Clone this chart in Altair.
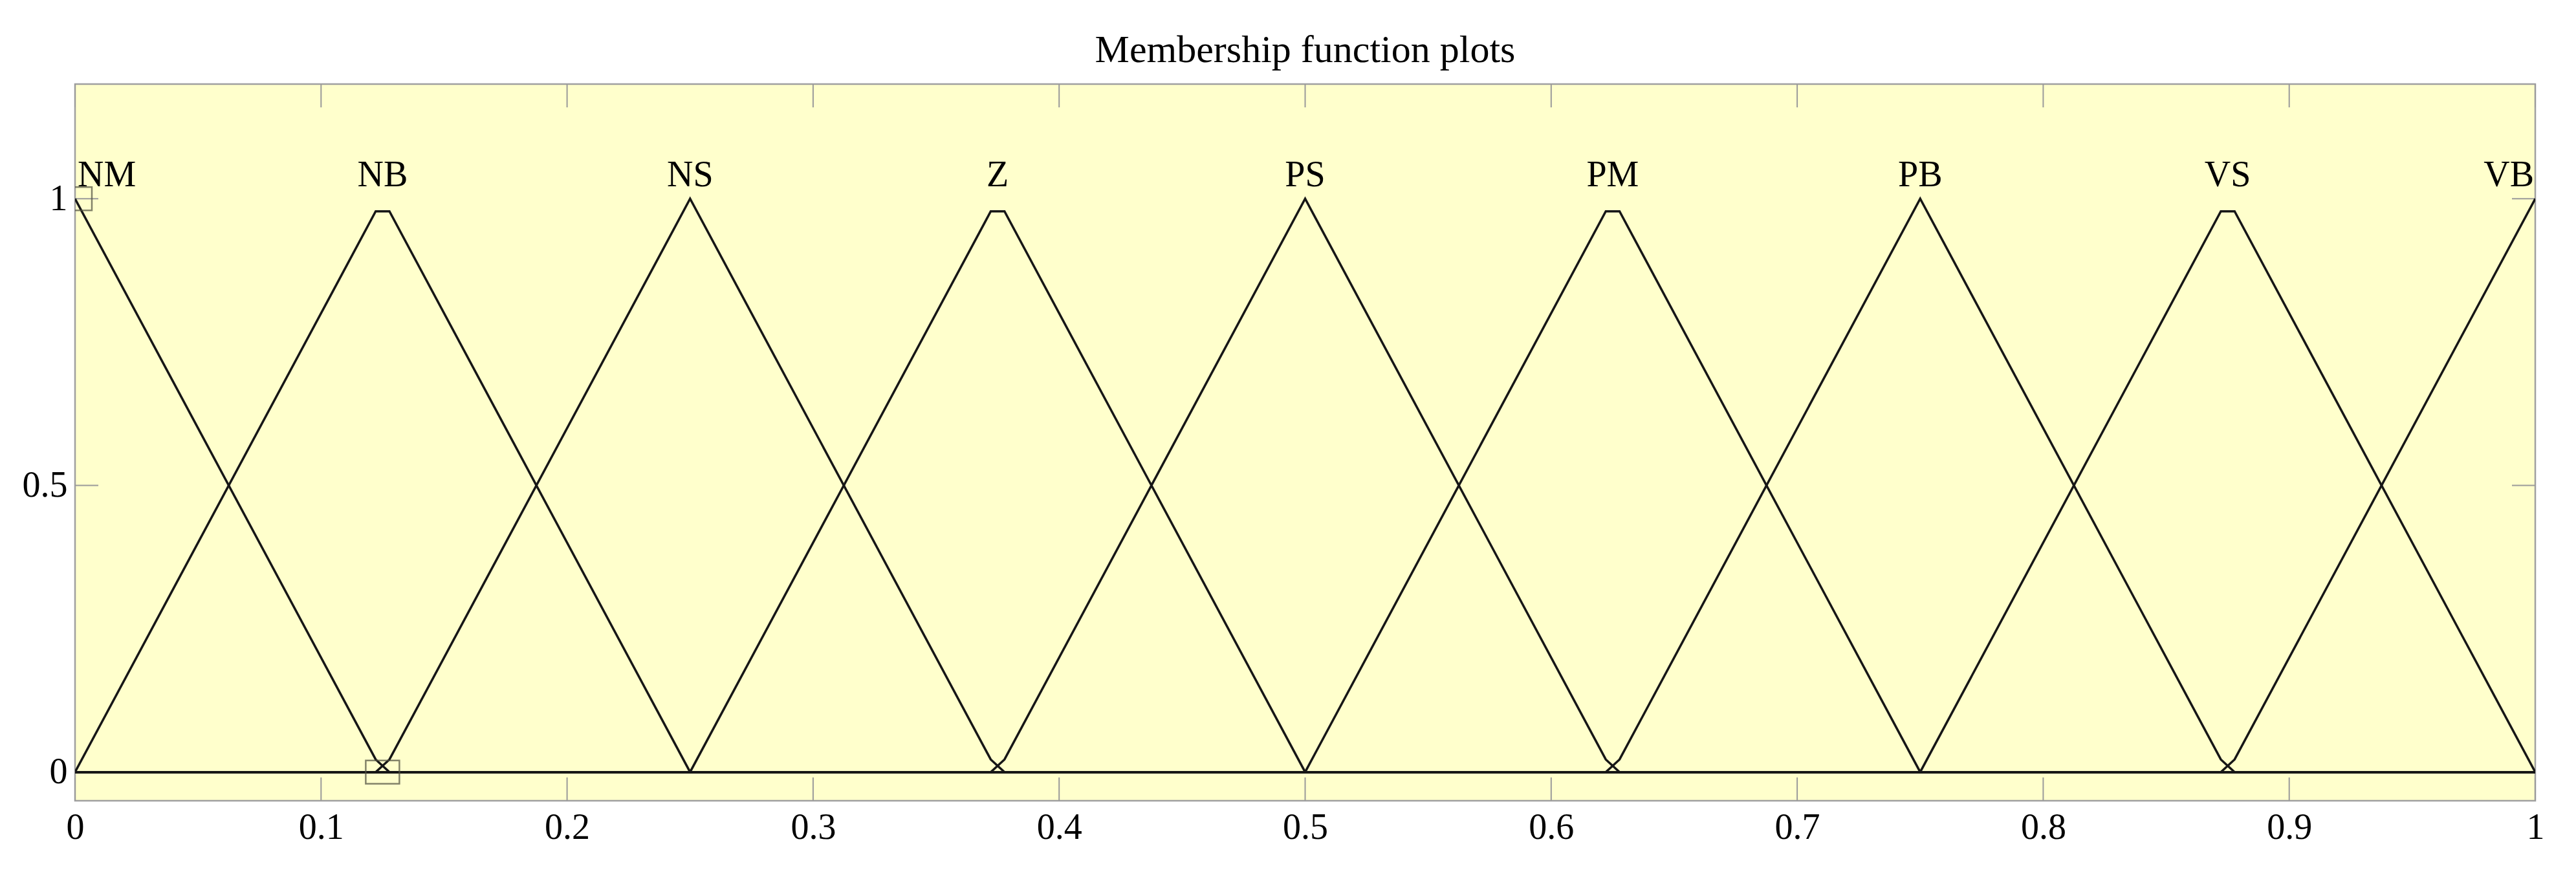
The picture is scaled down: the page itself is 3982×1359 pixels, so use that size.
import altair as alt
import pandas as pd

# ---- data ----
mf_names = ["NM", "NB", "NS", "Z", "PS", "PM", "PB", "VS", "VB"]
mf_centers = [0.0, 0.125, 0.25, 0.375, 0.5, 0.625, 0.75, 0.875, 1.0]
mf_x = [
    [0.0, 0.1222, 0.1278, 1.0],
    [0.0, 0.1222, 0.1278, 0.25, 1.0],
    [0.0, 0.1222, 0.1278, 0.25, 0.3722, 0.3778, 1.0],
    [0.0, 0.25, 0.3722, 0.3778, 0.5, 1.0],
    [0.0, 0.3722, 0.3778, 0.5, 0.6222, 0.6278, 1.0],
    [0.0, 0.5, 0.6222, 0.6278, 0.75, 1.0],
    [0.0, 0.6222, 0.6278, 0.75, 0.8722, 0.8778, 1.0],
    [0.0, 0.75, 0.8722, 0.8778, 1.0],
    [0.0, 0.8722, 0.8778, 1.0],
]
mf_y = [
    [1.0, 0.022, 0.0, 0.0],
    [0.0, 0.978, 0.978, 0.0, 0.0],
    [0.0, 0.0, 0.022, 1.0, 0.022, 0.0, 0.0],
    [0.0, 0.0, 0.978, 0.978, 0.0, 0.0],
    [0.0, 0.0, 0.022, 1.0, 0.022, 0.0, 0.0],
    [0.0, 0.0, 0.978, 0.978, 0.0, 0.0],
    [0.0, 0.0, 0.022, 1.0, 0.022, 0.0, 0.0],
    [0.0, 0.0, 0.978, 0.978, 0.0],
    [0.0, 0.0, 0.022, 1.0],
]
sel_x = [0.0, 0.125]   # vertices of selected MF (square handles)
sel_y = [1.0, 0.0]
x_ticks = [0, 0.1, 0.2, 0.3, 0.4, 0.5, 0.6, 0.7, 0.8, 0.9, 1]
y_ticks = [0, 0.5, 1]
title_text = "Membership function plots"

# ---- build tables ----
rows = []
for name, xs, ys in zip(mf_names, mf_x, mf_y):
    for i, (xv, yv) in enumerate(zip(xs, ys)):
        rows.append({"mf": name, "i": i, "x": xv, "y": yv})
lines_df = pd.DataFrame(rows)
labels_df = pd.DataFrame({"mf": mf_names, "x": mf_centers, "y": [1.0] * len(mf_names)})
sel_df = pd.DataFrame({"x": sel_x, "y": sel_y})
xt_df = pd.DataFrame({"t": x_ticks})
yt_df = pd.DataFrame({"t": y_ticks})

W, H = 3803, 1108
FONT = "Liberation Serif"
TICKLEN = 36
TICKCOL = "#9a9a9a"

xscale = alt.Scale(domain=[0, 1], nice=False, zero=False)
yscale = alt.Scale(domain=[-0.05, 1.2], nice=False, zero=False)

xaxis = alt.Axis(values=x_ticks, ticks=False, domain=False, grid=False, title=None,
                 labelFont=FONT, labelFontSize=56, labelColor="#000", labelPadding=14,
                 labelFlush=False, labelOverlap=False, format="~g")
yaxis = alt.Axis(values=y_ticks, ticks=False, domain=False, grid=False, title=None,
                 labelFont=FONT, labelFontSize=56, labelColor="#000", labelPadding=12,
                 labelFlush=False, labelOverlap=False, format="~g")

base_x = alt.X("x:Q", scale=xscale, axis=xaxis)
base_y = alt.Y("y:Q", scale=yscale, axis=yaxis)

lines = alt.Chart(lines_df).mark_line(color="#161616", strokeWidth=3.5, clip=True).encode(
    x=base_x, y=base_y, detail="mf:N", order=alt.Order("i:Q")
)

sq_path = "M-1,-0.692L1,-0.692L1,0.692L-1,0.692Z"
handles = alt.Chart(sel_df).mark_point(
    shape=sq_path, size=2704, filled=False, stroke="#505040", strokeWidth=2.5, clip=True
).encode(x=alt.X("x:Q", scale=xscale), y=alt.Y("y:Q", scale=yscale))

def label_layer(names, align, dx):
    return alt.Chart(labels_df).transform_filter(
        alt.FieldOneOfPredicate(field="mf", oneOf=names)
    ).mark_text(font=FONT, fontSize=56, color="#000", align=align,
                baseline="alphabetic", dx=dx, dy=-19).encode(
        x=alt.X("x:Q", scale=xscale), y=alt.Y("y:Q", scale=yscale), text="mf:N"
    )

lab_left = label_layer(["NM"], "left", 4)
lab_mid = label_layer(mf_names[1:-1], "center", 0)
lab_right = label_layer(["VB"], "right", -2)

# inward tick marks on all four sides
tick_bottom = alt.Chart(xt_df).mark_rule(color=TICKCOL, strokeWidth=2).encode(
    x=alt.X("t:Q", scale=xscale), y=alt.value(H), y2=alt.value(H - TICKLEN))
tick_top = alt.Chart(xt_df).mark_rule(color=TICKCOL, strokeWidth=2).encode(
    x=alt.X("t:Q", scale=xscale), y=alt.value(0), y2=alt.value(TICKLEN))
tick_left = alt.Chart(yt_df).mark_rule(color=TICKCOL, strokeWidth=2).encode(
    y=alt.Y("t:Q", scale=yscale), x=alt.value(0), x2=alt.value(TICKLEN))
tick_right = alt.Chart(yt_df).mark_rule(color=TICKCOL, strokeWidth=2).encode(
    y=alt.Y("t:Q", scale=yscale), x=alt.value(W), x2=alt.value(W - TICKLEN))

chart = alt.layer(
    tick_bottom, tick_top, tick_left, tick_right, lines, handles, lab_left, lab_mid, lab_right
).properties(
    width=W, height=H,
    title=alt.TitleParams(title_text, font=FONT, fontSize=60, fontWeight="normal",
                          color="#000", anchor="middle", offset=20, frame="group"),
    autosize=alt.AutoSizeParams(type="none"),
    padding={"left": 108, "top": 122, "right": 50, "bottom": 100},
    view=alt.ViewBackground(fill="#FFFFCC", stroke="#a0a0a0", strokeWidth=2.5),
).configure(background="white")

chart.save("out.html", embed_options={"renderer": "svg", "actions": False})
